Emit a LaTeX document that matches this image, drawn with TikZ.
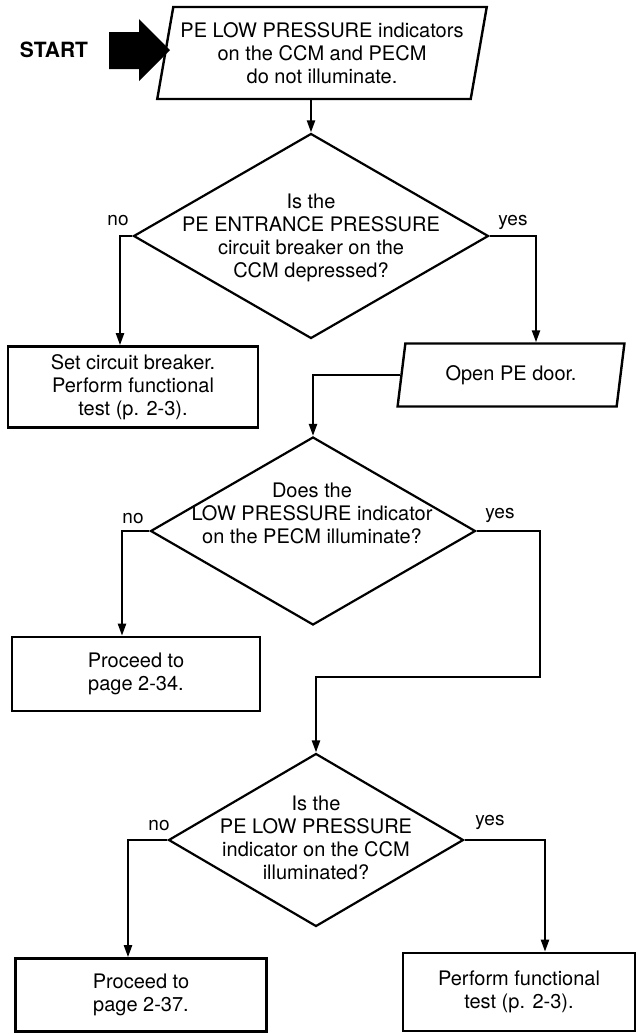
\documentclass[tikz,border=0pt]{standalone}
\usepackage{fontspec}
\setmainfont{TeX Gyre Heros}
\usetikzlibrary{arrows.meta,shapes.geometric}

\begin{document}
\begin{tikzpicture}[x=1pt, y=-1pt, >={Triangle[length=12pt,width=8pt]}, line width=2.2pt,
    txt/.style={font=\fontsize{20}{23}\selectfont, align=center},
    caja/.style={draw, rectangle, txt, inner sep=0pt, line width=2.6pt},
    dato/.style={draw, trapezium, trapezium left angle=76, trapezium right angle=104,
                 trapezium stretches=true, txt, inner sep=0pt, line width=2.4pt},
    pregunta/.style={draw, diamond, inner sep=0pt, line width=2.2pt},
    flecha/.style={->, line width=2.2pt},
    resp/.style={font=\fontsize{19}{19}\selectfont, inner sep=0pt, anchor=base}]
    \useasboundingbox (0,0) rectangle (638,1034);
    % inicio
    \node[font=\fontsize{21}{21}\selectfont\bfseries] (inicio) at (54,50) {START};
    \fill (109,32) -- (139,32) -- (139,19) -- (170,50) -- (139,81) -- (139,69) -- (109,69) -- cycle;
    \node[dato, minimum width=331pt, minimum height=92pt] (p1) at (322,53)
        {PE LOW PRESSURE indicators\\on the CCM and PECM\\do not illuminate.};
    % primera pregunta
    \node[pregunta, minimum width=355pt, minimum height=205pt] (d1) at (311,236) {};
    \node[txt] (q1) at (311,238) {Is the\\PE ENTRANCE PRESSURE\\circuit breaker on the\\CCM depressed?};
    \draw[flecha] (p1.south -| d1.north) -- (d1.north);
    \node[resp] (no1) at (118,225) {no};
    \node[resp] (yes1) at (513,225) {yes};
    \node[caja, minimum width=250pt, minimum height=81pt] (b1) at (133,387)
        {Set circuit breaker.\\Perform functional\\test (p. 2-3).};
    \node[dato, minimum width=227pt, minimum height=63pt] (p2) at (511,375) {Open PE door.};
    \draw[flecha] (d1.west) -| ([xshift=-13pt]b1.north);
    \draw[flecha] (d1.east) -| ([xshift=25pt]p2.north);
    % segunda pregunta
    \node[pregunta, minimum width=325pt, minimum height=188pt] (d2) at (313,531) {};
    \node[txt] (q2) at (312,513) {Does the\\LOW PRESSURE indicator\\on the PECM illuminate?};
    \node[resp] (no2) at (133,523) {no};
    \node[resp] (yes2) at (500,518) {yes};
    \draw[flecha] (p2.west) -| (d2.north);
    \node[caja, minimum width=248pt, minimum height=74pt] (b2) at (136,674) {Proceed to\\page 2-34.};
    \draw[flecha] (d2.west) -| ([xshift=-14pt]b2.north);
    % tercera pregunta
    \node[pregunta, minimum width=295pt, minimum height=173pt] (d3) at (316,840) {};
    \node[txt] (q3) at (316,838) {Is the\\PE LOW PRESSURE\\indicator on the CCM\\illuminated?};
    \node[resp] (no3) at (159,830) {no};
    \node[resp] (yes3) at (490,825) {yes};
    \coordinate (codo) at (540,677);
    \draw[flecha] (d2.east) -| (codo) -| (d3.north);
    \node[caja, minimum width=251pt, minimum height=73pt] (b3) at (141,995) {Proceed to\\page 2-37.};
    \node[caja, minimum width=232pt, minimum height=78pt] (b4) at (519,992) {Perform functional\\test (p. 2-3).};
    \draw[flecha] (d3.west) -| ([xshift=-13pt]b3.north);
    \draw[flecha] (d3.east) -| ([xshift=26pt]b4.north);
\end{tikzpicture}
\end{document}
